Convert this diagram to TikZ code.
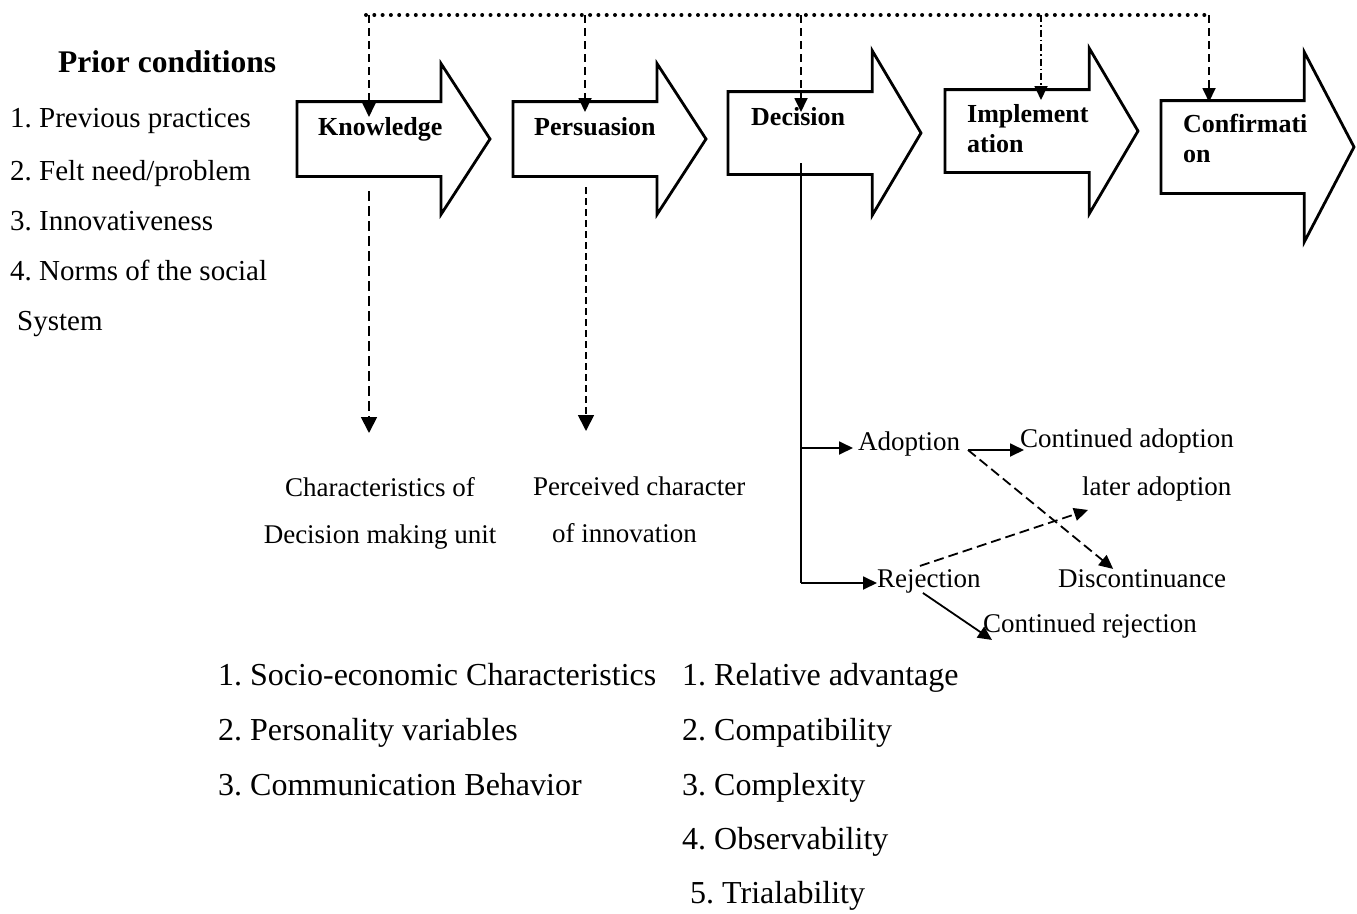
\documentclass[tikz,border=0pt]{standalone}
\usepackage{fontspec}
\setmainfont{Liberation Serif}
\frenchspacing
\usetikzlibrary{arrows.meta}
\usetikzlibrary{shapes.arrows}

\begin{document}
\begin{tikzpicture}[x=1pt,y=-1pt]
\useasboundingbox (0,0) rectangle (1357,913);

\tikzstyle{stage}=[single arrow,draw,line width=2.8pt,inner xsep=0pt,
outer sep=0pt,minimum height=193pt,anchor=tail]
\tikzstyle{stagetxt}=[inner sep=0pt,align=left,
font=\fontsize{26}{30}\selectfont\bfseries]
\tikzstyle{txt}=[inner sep=0pt,font=\fontsize{27}{47}\selectfont]
\tikzstyle{prior}=[inner sep=0pt,anchor=base west,font=\fontsize{29}{35}\selectfont]
\tikzstyle{attr}=[inner sep=0pt,anchor=base west,font=\fontsize{32}{38}\selectfont]

% the five stages
\node[stage,inner ysep=36pt,single arrow head extend=38pt,
single arrow tip angle=114] (know) at (297,139) {};
\node[stage,inner ysep=36pt,single arrow head extend=38pt,
single arrow tip angle=114] (pers) at (513,139) {};
\node[stage,inner ysep=40pt,single arrow head extend=41pt,
single arrow tip angle=118.7] (deci) at (728,133) {};
\node[stage,inner ysep=40pt,single arrow head extend=41.5pt,
single arrow tip angle=119] (impl) at (945,131) {};
\node[stage,inner ysep=45pt,single arrow head extend=48.5pt,
single arrow tip angle=124.7] (conf) at (1161,147) {};

\node[stagetxt,anchor=base west] (knowtxt) at (318,135) {Knowledge};
\node[stagetxt,anchor=base west] (perstxt) at (534,135) {Persuasion};
\node[stagetxt,anchor=base west] (decitxt) at (751,125) {Decision};
\node[stagetxt,anchor=north west] (impltxt) at (967,104) {Implement\\ation};
\node[stagetxt,anchor=north west] (conftxt) at (1183,114) {Confirmati\\on};

% prior conditions
\node[inner sep=0pt,anchor=base west,font=\fontsize{31.5}{36}\selectfont\bfseries]
(prior) at (58,72) {Prior conditions};
\node[prior] (prior1) at (10,127) {1. Previous practices};
\node[prior] (prior2) at (10,180) {2. Felt need/problem};
\node[prior] (prior3) at (10,230) {3. Innovativeness};
\node[prior] (prior4) at (10,280) {4. Norms of the social};
\node[prior] (prior5) at (17,330) {System};

% communication channels
\tikzstyle{flow}=[-{Triangle[length=14pt,width=13pt]},line width=1.8pt]
\tikzstyle{link}=[line width=4pt,line cap=round,dash pattern=on 0pt off 8.3pt]
\coordinate (linkl) at (366,15);
\coordinate (linkr) at (1207,15);
\draw[link] (linkl) -- (linkr);

\coordinate (k1) at (369,15); \coordinate (k2) at (369,117);
\coordinate (p1) at (585,15); \coordinate (p2) at (585,112);
\coordinate (d1) at (801,15); \coordinate (d2) at (801,112);
\coordinate (i1) at (1041,15); \coordinate (i2) at (1041,100);
\coordinate (c1) at (1209,15); \coordinate (c2) at (1209,102);
\draw[flow,dash pattern=on 8pt off 5pt] (k1) -- (k2);
\draw[flow,dash pattern=on 8pt off 5pt] (p1) -- (p2);
\draw[flow,dash pattern=on 8pt off 5pt] (d1) -- (d2);
\draw[flow,dash pattern=on 7pt off 3pt on 1.5pt off 3pt] (i1) -- (i2);
\draw[flow,dash pattern=on 8pt off 5pt] (c1) -- (c2);

% knowledge and persuasion
\coordinate (k3) at (369,191); \coordinate (k4) at (369,433);
\coordinate (p3) at (586,187); \coordinate (p4) at (586,431);
\draw[flow,-{Triangle[length=16pt,width=16pt]},dash pattern=on 10pt off 5pt] (k3) -- (k4);
\draw[flow,-{Triangle[length=16pt,width=16pt]},dash pattern=on 7pt off 4pt] (p3) -- (p4);

\node[txt,align=center,anchor=north] (unit) at (380,477) {Characteristics of\\Decision making unit};
\node[txt,align=left,anchor=north west] (innov) at (533,477)
{Perceived character\\\hspace*{19pt}of innovation};

% decision
\coordinate (dtop) at (801,163);
\coordinate (dmid) at (801,448);
\coordinate (dbot) at (801,583);
\draw[line width=1.8pt] (dtop) -- (dbot);

\node[txt,anchor=base west] (adopt) at (858,450) {Adoption};
\node[txt,anchor=base west] (rejec) at (877,587) {Rejection};
\node[txt,anchor=base west] (contad) at (1020,447) {Continued adoption};
\node[txt,anchor=base west] (later) at (1082,495) {later adoption};
\node[txt,anchor=base west] (discon) at (1058,587) {Discontinuance};
\node[txt,anchor=base west] (contrej) at (983,632) {Continued rejection};

\draw[flow,shorten >=5pt] (dmid) -- (dmid -| adopt.west);
\draw[flow] (dbot) -- (dbot -| rejec.west);
\coordinate (asplit) at (968,450);
\draw[flow,shorten >=-4pt] (asplit) -- (asplit -| contad.west);
\draw[flow,dash pattern=on 10pt off 5pt] (asplit) -- ([xshift=-29pt]discon.north);
\draw[flow,dash pattern=on 10pt off 5pt] ([xshift=-9pt,yshift=3pt]rejec.north)
-- ([xshift=6pt,yshift=-9pt]later.south west);
\draw[flow] ([xshift=-6pt]rejec.south) -- ([xshift=9pt,yshift=-2pt]contrej.south west);

% attributes
\node[attr] (socio) at (218,685) {1. Socio-economic Characteristics};
\node[attr] (perso) at (218,740) {2. Personality variables};
\node[attr] (commu) at (218,795) {3. Communication Behavior};
\node[attr] (relat) at (682,685) {1. Relative advantage};
\node[attr] (compa) at (682,740) {2. Compatibility};
\node[attr] (compl) at (682,795) {3. Complexity};
\node[attr] (obser) at (682,849) {4. Observability};
\node[attr] (trial) at (690,903) {5. Trialability};

\end{tikzpicture}
\end{document}
